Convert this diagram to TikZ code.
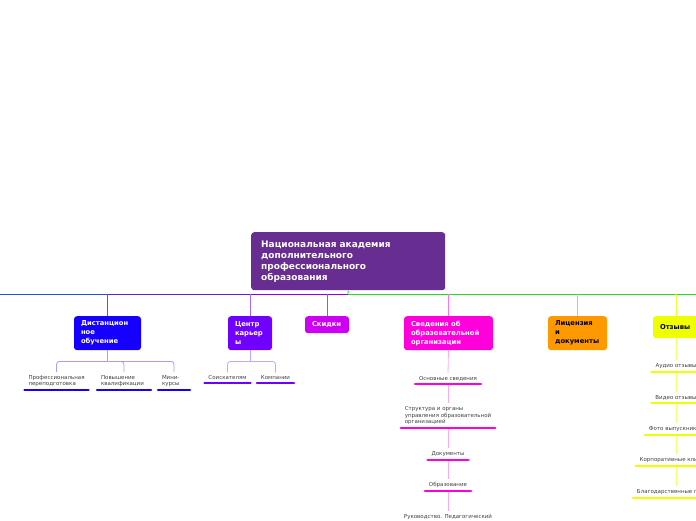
\documentclass[tikz,border=0pt]{standalone}
\usepackage{fontspec}
\setmainfont{DejaVu Sans}
\usetikzlibrary{positioning}

\definecolor{rootc}{HTML}{672D91}
\definecolor{distc}{HTML}{1500FF}
\definecolor{carc}{HTML}{7000FF}
\definecolor{skidc}{HTML}{CC00F2}
\definecolor{svedc}{HTML}{FF00DD}
\definecolor{licc}{HTML}{FF9900}
\definecolor{otzc}{HTML}{F0FF00}
\definecolor{distlt}{HTML}{A99BFF}
\definecolor{carlt}{HTML}{C4A6FF}
\definecolor{svedlt}{HTML}{FFAAF0}
\definecolor{otzlt}{HTML}{F4FF70}
\definecolor{trunkblue}{HTML}{1E50E6}
\definecolor{trunkviol}{HTML}{5A1EEB}
\definecolor{trunkpurp}{HTML}{8A00E6}
\definecolor{trunkgreen}{HTML}{22DD22}

\begin{document}
\begin{tikzpicture}[x=1pt,y=-1pt,
    topic/.style={rounded corners=3pt, inner xsep=7pt, inner ysep=0pt, anchor=north,
      align=left, font=\fontsize{6.8}{9}\selectfont\bfseries, text=white, minimum height=34pt},
    item/.style={anchor=south, inner xsep=5pt, inner ysep=3pt, align=left,
      font=\fontsize{5.5}{6.5}\selectfont, text=black!75},
    uline/.style={line width=2.5pt, line cap=round},
    twig/.style={line width=0.8pt, rounded corners=3pt}]
    \useasboundingbox (0,0) rectangle (696,520);
    \clip (0,0) rectangle (696,520);

    % root
    \node[rounded corners=3pt, fill=rootc, text=white, anchor=north west, inner xsep=10pt,
      text width=174pt, minimum height=58pt, align=left,
      font=\fontsize{9}{11}\selectfont\bfseries] (root) at (251,232)
      {Национальная академия\\дополнительного\\профессионального\\образования};

    % trunk
    \coordinate (t0) at (0,294);
    \coordinate (tD) at (108,294);
    \coordinate (tC) at (250,294);
    \coordinate (tR) at (348,294);
    \coordinate (tE) at (696,294);
    \draw[trunkblue, line width=0.8pt] (t0) -- (tD);
    \draw[trunkviol, line width=0.8pt] (tD) -- (tC);
    \draw[trunkpurp, line width=0.8pt] (tC) -- (tR);
    \draw[trunkgreen, line width=0.8pt] (tR) -- (tE);
    \draw[trunkgreen, line width=0.8pt] (root.south) -- (tR);

    % main topics
    \node[topic, fill=distc, text width=53pt] (dist) at (107.5,316) {Дистанцион\\ное\\обучение};
    \node[topic, fill=carc, text width=30pt] (car) at (250,316) {Центр\\карьер\\ы};
    \node[topic, fill=skidc, text width=30pt, minimum height=17pt] (skid) at (327,316) {Скидки};
    \node[topic, fill=svedc, text width=75pt] (sved) at (448.5,316) {Сведения об\\образовательной\\организации};
    \node[topic, fill=licc, text=black, text width=45pt] (lic) at (577.5,316) {Лицензия\\и\\документы};
    \node[topic, fill=otzc, text=black, text width=32pt, minimum height=22pt] (otz) at (676,316) {Отзывы};

    \draw[twig, color=distc!70!white] (dist.north |- tR) -- (dist.north);
    \draw[twig, color=carc!60!white] (car.north |- tR) -- (car.north);
    \draw[twig, color=skidc!80!white] (skid.north |- tR) -- (skid.north);
    \draw[twig, color=svedc!55!white] (sved.north |- tR) -- (sved.north);
    \draw[twig, color=licc!70!white] (lic.north |- tR) -- (lic.north);
    \draw[twig, color=otzc!80!white] (otz.north |- tR) -- (otz.north);

    % distance learning
    \node[item, text width=56pt] (d1) at (56.5,390) {Профессиональная\\переподготовка};
    \node[item, text width=46pt] (d2) at (124,390) {Повышение\\квалификации};
    \node[item, text width=24pt] (d3) at (174,390) {Мини-\\курсы};
    \coordinate (dj) at ([yshift=-11pt]dist.south);
    \draw[twig, distlt] (dist.south) -- (dj);
    \foreach \i in {d1,d2,d3} {
      \draw[twig, distlt] (dj) -| (\i.north);
      \draw[uline, distc] ([xshift=1.25pt]\i.south west) -- ([xshift=-1.25pt]\i.south east);
    }

    % career centre
    \node[item] (c1) at (227.5,383) {Соискателям};
    \node[item] (c2) at (275.5,383) {Компании};
    \coordinate (cj) at ([yshift=-11pt]car.south);
    \draw[twig, carlt] (car.south) -- (cj);
    \foreach \i in {c1,c2} {
      \draw[twig, carlt] (cj) -| (\i.north);
      \draw[uline, carc] ([xshift=1.25pt]\i.south west) -- ([xshift=-1.25pt]\i.south east);
    }

    % information
    \node[item] (s1) at (448,384) {Основные сведения};
    \node[item] (s2) at (448,428) {Структура и органы\\управления образовательной\\организацией};
    \node[item] (s3) at (448,460) {Документы};
    \node[item] (s4) at (448,491) {Образование};
    \node[item] (s5) at (448,523) {Руководство. Педагогический};
    \draw[twig, svedlt] (sved.south) -- (s1.north);
    \foreach \a/\b in {s1/s2,s2/s3,s3/s4,s4/s5}
      \draw[twig, svedlt] (\a.south) -- (\b.north);
    \foreach \i in {s1,s2,s3,s4,s5}
      \draw[uline, svedc] ([xshift=1.25pt]\i.south west) -- ([xshift=-1.25pt]\i.south east);

    % reviews
    \node[item] (o1) at (676,372) {Аудио отзывы};
    \node[item] (o2) at (676,403) {Видео отзывы};
    \node[item] (o3) at (676,435) {Фото выпускников};
    \node[item] (o4) at (676,466) {Корпоративные клиенты};
    \node[item] (o5) at (676,498) {Благодарственные письма};
    \draw[twig, otzlt] (otz.south) -- (o1.north);
    \foreach \a/\b in {o1/o2,o2/o3,o3/o4,o4/o5}
      \draw[twig, otzlt] (\a.south) -- (\b.north);
    \foreach \i in {o1,o2,o3,o4,o5}
      \draw[uline, otzc] ([xshift=1.25pt]\i.south west) -- ([xshift=-1.25pt]\i.south east);
\end{tikzpicture}
\end{document}
